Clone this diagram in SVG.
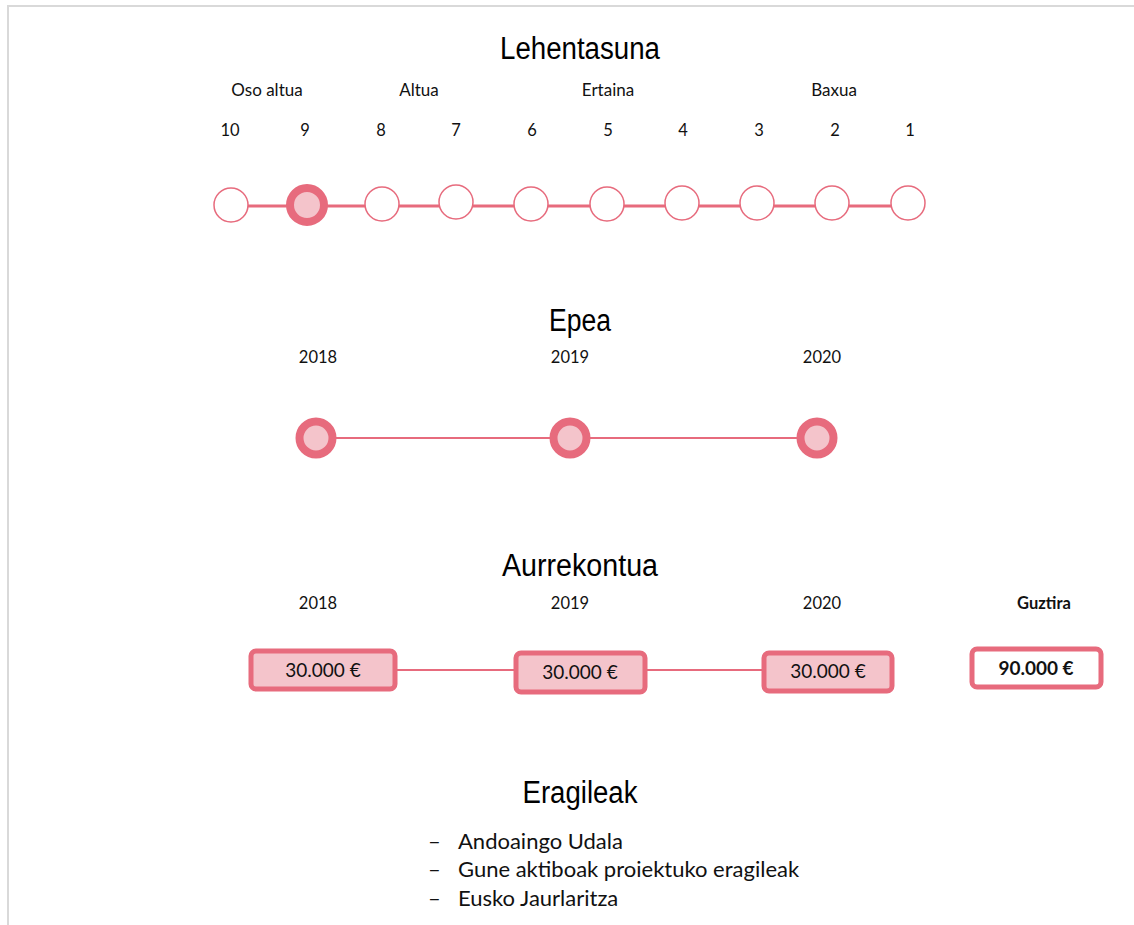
<svg xmlns="http://www.w3.org/2000/svg" width="1134" height="925" viewBox="0 0 1134 925">
<style>
.title{font-family:"Liberation Sans Narrow","Liberation Sans",Arial,sans-serif;font-size:31px;fill:#000;text-anchor:middle}
.lbl{font-family:Lato,"Open Sans","Liberation Sans",sans-serif;font-size:17px;fill:#111;text-anchor:middle}
.num{font-family:Lato,"Open Sans","Liberation Sans",sans-serif;font-size:16.5px;fill:#111;text-anchor:middle}
.box{fill:#F4C4CB;stroke:#E76B7D;stroke-width:5}
.tot{fill:#fff;stroke:#E76B7D;stroke-width:5}
.boxt{font-family:Lato,"Open Sans","Liberation Sans",sans-serif;font-size:19px;fill:#111;text-anchor:middle}
.empty{fill:#fff;stroke:#E76B7D;stroke-width:1.5}
.sel{fill:#F4C4CB;stroke:#E76B7D;stroke-width:8}
.conn{stroke:#E76B7D;fill:none}
.list{font-family:Lato,"Open Sans","Liberation Sans",sans-serif;font-size:22px;fill:#111}
</style>
<g id="frame" stroke="#D9D9D9" stroke-width="2" fill="none">
<line x1="7" y1="6" x2="1134" y2="6"/>
<line x1="8" y1="6" x2="8" y2="925"/>
</g>
<g id="connectors">
<line class="conn" x1="231" y1="206" x2="908" y2="206" stroke-width="3"/>
<line class="conn" x1="316" y1="438" x2="817" y2="438" stroke-width="2"/>
<line class="conn" x1="397" y1="670" x2="762" y2="670" stroke-width="2"/>
</g>
<g id="lehentasuna">
<text class="title" x="580" y="59" textLength="160" lengthAdjust="spacingAndGlyphs">Lehentasuna</text>
<text class="lbl" x="267" y="96">Oso altua</text>
<text class="lbl" x="419" y="96">Altua</text>
<text class="lbl" x="608" y="96">Ertaina</text>
<text class="lbl" x="834" y="96">Baxua</text>
<text class="num" x="230" y="136">10</text>
<text class="num" x="305" y="136">9</text>
<text class="num" x="381" y="136">8</text>
<text class="num" x="456" y="136">7</text>
<text class="num" x="532" y="136">6</text>
<text class="num" x="608" y="136">5</text>
<text class="num" x="683" y="136">4</text>
<text class="num" x="759" y="136">3</text>
<text class="num" x="835" y="136">2</text>
<text class="num" x="910" y="136">1</text>
</g>
<g id="p10"><circle class="empty" cx="231" cy="205" r="17"/></g>
<g id="p9"><circle class="sel" cx="307" cy="205" r="17"/></g>
<g id="p8"><circle class="empty" cx="382" cy="204" r="17"/></g>
<g id="p7"><circle class="empty" cx="456" cy="202" r="17"/></g>
<g id="p6"><circle class="empty" cx="531" cy="204" r="17"/></g>
<g id="p5"><circle class="empty" cx="607" cy="204" r="17"/></g>
<g id="p4"><circle class="empty" cx="682" cy="203" r="17"/></g>
<g id="p3"><circle class="empty" cx="757" cy="203" r="17"/></g>
<g id="p2"><circle class="empty" cx="832" cy="203" r="17"/></g>
<g id="p1"><circle class="empty" cx="908" cy="203" r="17"/></g>
<g id="epea">
<text class="title" x="580" y="331" textLength="62" lengthAdjust="spacingAndGlyphs">Epea</text>
<text class="num" x="318" y="363">2018</text>
<text class="num" x="570" y="363">2019</text>
<text class="num" x="822" y="363">2020</text>
</g>
<g id="e2018"><circle class="sel" cx="316" cy="438" r="16.5"/></g>
<g id="e2019"><circle class="sel" cx="570" cy="438" r="16.5"/></g>
<g id="e2020"><circle class="sel" cx="817" cy="438" r="16.5"/></g>
<g id="aurrekontua">
<text class="title" x="580" y="576" textLength="156" lengthAdjust="spacingAndGlyphs">Aurrekontua</text>
<text class="num" x="318" y="609">2018</text>
<text class="num" x="570" y="609">2019</text>
<text class="num" x="822" y="609">2020</text>
<text class="num" x="1044" y="609" font-weight="bold">Guztira</text>
</g>
<g id="b2018"><rect class="box" x="251" y="651" width="144" height="38" rx="5"/><text class="boxt" x="323" y="677">30.000 €</text></g>
<g id="b2019"><rect class="box" x="516" y="653" width="129" height="39" rx="5"/><text class="boxt" x="580" y="679">30.000 €</text></g>
<g id="b2020"><rect class="box" x="764" y="653" width="128" height="38" rx="5"/><text class="boxt" x="828" y="678">30.000 €</text></g>
<g id="bguztira"><rect class="tot" x="972" y="649" width="129" height="38" rx="5"/><text class="boxt" x="1036" y="675" font-weight="bold">90.000 €</text></g>
<g id="eragileak">
<text class="title" x="580" y="803" textLength="115" lengthAdjust="spacingAndGlyphs">Eragileak</text>
<text class="list" x="428" y="849">–</text><text class="list" x="458" y="849">Andoaingo Udala</text>
<text class="list" x="428" y="877">–</text><text class="list" x="458" y="877">Gune aktiboak proiektuko eragileak</text>
<text class="list" x="428" y="906">–</text><text class="list" x="458" y="906">Eusko Jaurlaritza</text>
</g>
</svg>
